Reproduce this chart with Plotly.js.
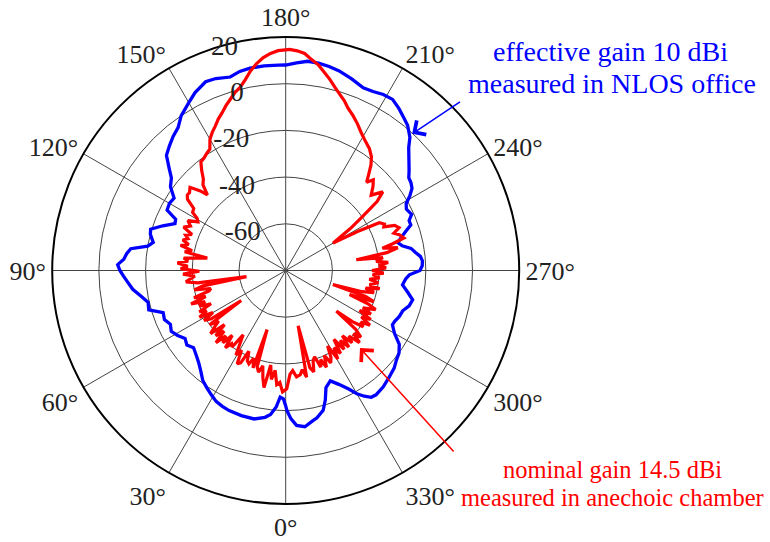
<!DOCTYPE html>
<html>
<head>
<meta charset="utf-8">
<script src="https://cdn.plot.ly/plotly-3.0.1.min.js"></script>
<style>html,body{margin:0;padding:0;background:#fff;}#chart{width:770px;height:542px;}</style>
</head>
<body>
<div id="chart"></div>
<script>
// Angular ticks (degrees) and labels
const angleTicks = [0, 30, 60, 90, 120, 150, 180, 210, 240, 270, 300, 330];
const angleLabels = ["0°", "30°", "60°", "90°", "120°", "150°", "180°", "210°", "240°", "270°", "300°", "330°"];
// Radial ticks (dB) and labels
const radialTicks = [-60, -40, -20, 0, 20];
const radialLabels = ["-60", "-40", "-20", "0", "20"];
const radialRange = [-80, 20];

// Effective gain 10 dBi, measured in NLOS office (blue)
const blueTheta = [0, 1, 2.5, 4, 6, 8, 12, 17, 22, 25, 28, 31, 34, 37, 40, 43, 46, 50, 53, 56, 59, 62, 65, 68, 71, 74, 77, 80, 83, 86, 88, 90, 92, 94, 96, 98, 100, 102, 105, 107, 110, 113, 115, 117, 120, 123, 126, 129, 131, 134, 137, 140, 143, 146, 150, 153, 157, 160, 164, 167, 170, 174, 178, 180, 183, 186, 189, 192, 195, 199, 203, 206, 209, 212, 215, 218, 220, 223, 225, 228, 231, 233, 235, 237, 239, 241, 243, 246, 248, 250, 252, 254, 256, 258, 260, 262, 264, 266, 268, 270, 272, 274, 277, 280, 283, 286, 289, 292, 295, 297, 300, 303, 306, 309, 312, 316, 320, 324, 326, 328, 330, 332, 335, 338, 341, 343, 345, 348, 350, 353, 356, 358, 359.5, 360];
const blueGain = [-22, -25, -25.7, -21.4, -18, -16.5, -15, -15, -15.3, -15.8, -16.5, -18, -19.5, -21, -23.5, -25.5, -27, -28.5, -27, -28, -26, -24.5, -25.5, -24, -24.5, -19, -19.5, -17, -14, -12, -10.5, -9, -8, -10.5, -11.5, -13, -20, -22, -20, -19.5, -24, -28.5, -28, -23, -22.5, -23, -19, -17, -14, -9, -7, -5, -3.4, 0, 3, 5.5, 7.8, 7.5, 6.2, 7.5, 8, 8.1, 8, 8, 9, 10.1, 9.9, 9.3, 8.5, 6.8, 5.0, 5.3, 6.2, 6.4, 4.6, 2.5, 1.2, -2, -5.5, -9, -12, -14, -14.5, -15.5, -18, -21, -22, -21, -23, -23, -26, -28.5, -30.5, -29, -25.5, -24, -22, -21.3, -21.5, -22.5, -27, -28.5, -29.6, -27, -24.2, -25, -27, -27.5, -28.5, -28.7, -26.2, -22, -20, -19, -17.5, -16.3, -15, -14.2, -14.5, -16.5, -19, -22.5, -26.2, -29, -27, -22, -18, -15.5, -14.5, -12.6, -13.5, -16.5, -20, -22];

// Nominal gain 14.5 dBi, measured in anechoic chamber (red)
const redTheta = [0, 1.5, 3, 4.5, 6, 7.5, 9, 10.5, 12, 13.5, 15, 16.5, 17.5, 18.5, 20, 21.5, 23, 24.5, 26, 27.5, 29, 30.5, 32, 33.5, 35, 36.5, 38, 39.5, 41, 42.5, 44, 45.5, 47, 48.5, 50, 51.5, 53, 54.5, 56, 57, 58.5, 60, 61.5, 63, 64.5, 66, 67.5, 69, 70.5, 72, 73.5, 75, 76.5, 78, 79.5, 81, 82, 83.5, 85, 86.5, 88, 89.5, 91, 92.5, 94, 95.5, 97, 99, 100.5, 102, 103.5, 105, 106.5, 108, 109.5, 111, 113, 115, 117, 119, 120.5, 122, 124, 126, 127.5, 129, 131, 133, 134, 136, 138, 140, 142, 144, 146, 148, 150, 152, 154, 156, 158, 160, 162, 164, 166, 168, 170, 172, 174, 176, 178, 180, 181, 183, 185, 187, 189, 191, 193, 195, 197, 199, 201, 203.5, 206, 208.5, 211, 214.5, 217, 219, 221, 222.5, 224, 226, 228.6, 231, 233, 235, 237, 240, 241.5, 243, 244.8, 246, 247.5, 249.3, 251, 252.5, 254.6, 256, 257, 258.5, 260, 261.3, 262.5, 264.2, 265.5, 267, 268.5, 270, 271.5, 272.7, 274.5, 276, 277.5, 279.6, 281, 282.5, 284, 285.5, 286.6, 288, 289.5, 290.6, 292, 293.5, 295.8, 297, 298.5, 300, 301.5, 303, 304.5, 306, 307.5, 308.7, 310, 311.5, 313, 314.3, 316, 317.5, 319, 320.5, 322, 323.5, 325, 326.5, 328, 329.5, 331, 332.5, 334, 335.5, 337.2, 338.5, 340, 341.5, 343.1, 344.5, 346, 347.3, 348.9, 350.5, 352, 354.2, 356, 357.6, 359.5, 360];
const redGain = [-29, -28, -32, -31, -37, -33, -39, -29, -33, -38, -35, -37, -53.5, -36, -40, -37, -38, -42, -36, -35, -41, -38, -43, -47, -40, -41, -38, -44, -39, -42, -37, -43, -39, -45, -38, -41, -44, -40, -57, -42, -39, -44, -38, -42, -39, -45, -40, -43, -37, -44, -39, -46, -47, -40, -44, -63, -42, -37, -39, -41, -36, -43, -35, -38, -33.5, -38, -36, -46, -36, -39, -33.7, -37, -34, -36, -34.5, -37, -32.5, -35, -33, -37, -36, -33, -32.5, -28, -26.9, -27, -25.7, -30, -33.4, -29, -27.3, -24, -21, -20.5, -19.5, -18.7, -15.1, -13, -11.2, -9, -7.2, -5, -3, -0.8, 0.8, 3.5, 6.8, 9.5, 11.7, 13.2, 14.2, 14.5, 14.7, 14.2, 13.3, 11, 9.2, 6.5, 4, 1.3, -1, -3, -5.5, -7.7, -10, -12.5, -14.5, -16.7, -19, -22, -26, -28.7, -26, -28, -31.2, -26.5, -31, -40, -47, -56.6, -45, -35, -33.3, -34, -29.5, -28.1, -31, -29, -27.5, -33, -37.5, -31, -36, -49.4, -38, -41.1, -36, -40, -37, -43, -38, -42.7, -39.7, -44, -40, -43.6, -39, -45, -41, -46, -58.9, -44, -40, -50.8, -42, -38, -43.3, -39, -44, -38, -42, -37, -41, -39, -44, -52.2, -41, -37, -40.3, -35.8, -41, -38, -43, -37.5, -42, -38, -44, -37.4, -41, -36, -43, -38, -36, -40, -35, -39, -36, -41, -39.6, -35, -37, -55.7, -33.4, -37, -35, -34.2, -37, -35.6, -29.3, -29];

const serif = "Liberation Serif, Times New Roman, serif";

const traces = [
  {
    type: "scatterpolar", mode: "lines", name: "effective gain",
    theta: blueTheta, r: blueGain,
    line: {color: "#0000ff", width: 3.3}, showlegend: false, hoverinfo: "skip"
  },
  {
    type: "scatterpolar", mode: "lines", name: "nominal gain",
    theta: redTheta, r: redGain,
    line: {color: "#ff0000", width: 3.2}, showlegend: false, hoverinfo: "skip"
  }
];

const W = 770, H = 542;
const CX = 285.7, CY = 270.5, R = 233.5;
function px(x) { return x / W; }
function py(y) { return 1 - y / H; }

const layout = {
  width: W, height: H,
  margin: {l: 0, r: 0, t: 0, b: 0},
  paper_bgcolor: "#ffffff",
  font: {family: serif, size: 27, color: "#222222"},
  polar: {
    domain: {x: [px(CX - R), px(CX + R)], y: [py(CY + R), py(CY - R)]},
    bgcolor: "#ffffff",
    angularaxis: {
      rotation: -90,
      direction: "clockwise",
      tickmode: "array",
      tickvals: angleTicks,
      ticktext: angleLabels,
      ticks: "",
      showline: true,
      linecolor: "#000000",
      linewidth: 2,
      gridcolor: "#444444",
      gridwidth: 1,
      tickfont: {family: serif, size: 26, color: "#222222"}
    },
    radialaxis: {
      range: radialRange,
      angle: 97,
      side: "counterclockwise",
      tickangle: 97,
      tickmode: "array",
      tickvals: radialTicks,
      ticktext: radialLabels,
      ticks: "",
      showline: false,
      gridcolor: "#444444",
      gridwidth: 1,
      tickfont: {family: serif, size: 27, color: "#222222"}
    }
  },
  annotations: [
    {xref: "paper", yref: "paper", x: px(610), y: py(51.2), xanchor: "center", yanchor: "middle",
     text: "effective gain 10 dBi", showarrow: false, font: {family: serif, size: 28, color: "#0000ff"}},
    {xref: "paper", yref: "paper", x: px(611.5), y: py(83.9), xanchor: "center", yanchor: "middle",
     text: "measured in NLOS office", showarrow: false, font: {family: serif, size: 28, color: "#0000ff"}},
    {xref: "paper", yref: "paper", x: px(612.5), y: py(469), xanchor: "center", yanchor: "middle",
     text: "nominal gain 14.5 dBi", showarrow: false, font: {family: serif, size: 24.5, color: "#ff0000"}},
    {xref: "paper", yref: "paper", x: px(612.5), y: py(497.4), xanchor: "center", yanchor: "middle",
     text: "measured in anechoic chamber", showarrow: false, font: {family: serif, size: 24.5, color: "#ff0000"}},
    {xref: "paper", yref: "paper", x: px(412.2), y: py(133.8), text: "", showarrow: true,
     ax: 49.3, ay: -33, arrowhead: 4, arrowsize: 2.2, arrowwidth: 1.5, arrowcolor: "#0000ff", standoff: 0},
    {xref: "paper", yref: "paper", x: px(360), y: py(348), text: "", showarrow: true,
     ax: 95, ay: 105, arrowhead: 4, arrowsize: 2.2, arrowwidth: 1.5, arrowcolor: "#ff0000", standoff: 0}
  ],
  showlegend: false
};

Plotly.newPlot("chart", traces, layout, {displayModeBar: false, staticPlot: true});
</script>
</body>
</html>
